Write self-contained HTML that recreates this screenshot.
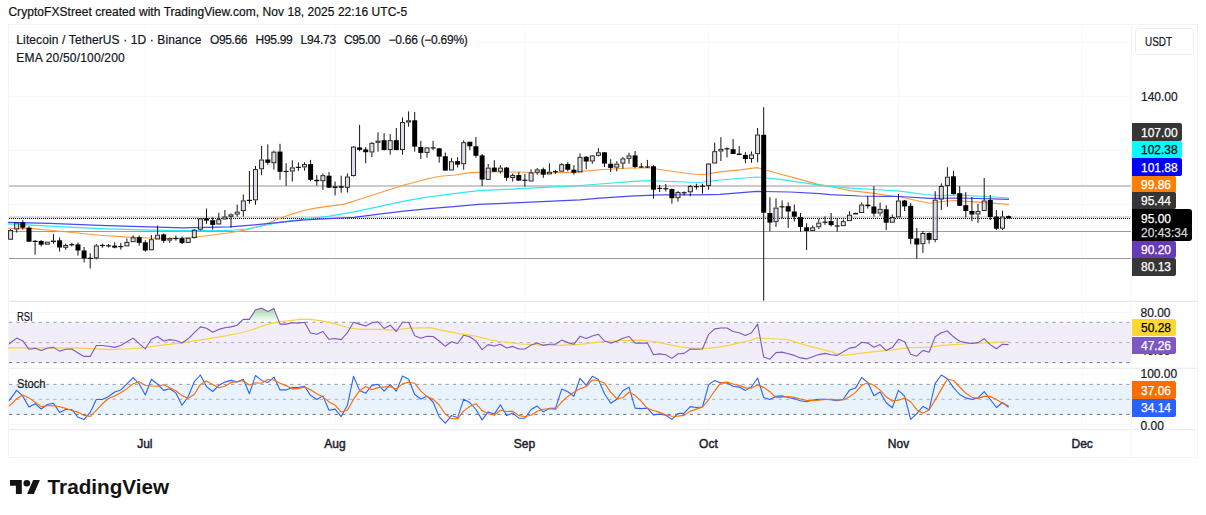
<!DOCTYPE html>
<html><head><meta charset="utf-8"><title>LTCUSDT</title>
<style>
html,body{margin:0;padding:0;background:#fff;}
body{width:1206px;height:515px;position:relative;overflow:hidden;font-family:"Liberation Sans",sans-serif;color:#131722;}
.t{position:absolute;white-space:nowrap;font-size:12px;line-height:14px;-webkit-text-stroke:0.2px currentColor;}
.frame{position:absolute;left:7.5px;top:24px;width:1188.5px;height:432.3px;border:1.4px solid #f2f3f5;box-sizing:content-box;}
.sep{position:absolute;background:#e7ebf0;}
svg{position:absolute;left:0;top:0;}
.lb{position:absolute;left:1132px;font-size:12px;-webkit-text-stroke:0.25px currentColor;text-align:left;padding-left:9px;box-sizing:border-box;border-radius:0 2px 2px 0;white-space:nowrap;}
.ax{position:absolute;left:1141px;-webkit-text-stroke:0.2px currentColor;font-size:12px;line-height:14px;color:#131722;white-space:nowrap;}
.mo{position:absolute;top:436.5px;font-size:12px;line-height:14px;font-weight:normal;-webkit-text-stroke:0.45px currentColor;transform:translateX(-50%);white-space:nowrap;color:#1c202b;}
</style></head><body>
<div class="t" id="hdr" style="left:8.4px;top:5.4px;color:#111;letter-spacing:0.05px">CryptoFXStreet created with TradingView.com, Nov 18, 2025 22:16 UTC-5</div>
<div class="frame"></div>
<svg width="1206" height="515" viewBox="0 0 1206 515">
<line x1="9" x2="1131" y1="42.3" y2="42.3" stroke="#f6f7f9" stroke-width="1"/>
<line x1="9" x2="1131" y1="96.3" y2="96.3" stroke="#f6f7f9" stroke-width="1"/>
<line x1="9" x2="1131" y1="150.3" y2="150.3" stroke="#f6f7f9" stroke-width="1"/>
<line x1="9" x2="1131" y1="204.5" y2="204.5" stroke="#f6f7f9" stroke-width="1"/>
<line x1="9" x2="1131" y1="258.6" y2="258.6" stroke="#f6f7f9" stroke-width="1"/>
<line x1="145.3" x2="145.3" y1="25" y2="429" stroke="#f8f9fa" stroke-width="1"/>
<line x1="335.1" x2="335.1" y1="25" y2="429" stroke="#f8f9fa" stroke-width="1"/>
<line x1="524.9" x2="524.9" y1="25" y2="429" stroke="#f8f9fa" stroke-width="1"/>
<line x1="708.6" x2="708.6" y1="25" y2="429" stroke="#f8f9fa" stroke-width="1"/>
<line x1="898.4" x2="898.4" y1="25" y2="429" stroke="#f8f9fa" stroke-width="1"/>
<line x1="1082.1" x2="1082.1" y1="25" y2="429" stroke="#f8f9fa" stroke-width="1"/>
<line x1="9" x2="1131" y1="312.5" y2="312.5" stroke="#f6f7f9" stroke-width="1"/>
<line x1="9" x2="1131" y1="352.5" y2="352.5" stroke="#f6f7f9" stroke-width="1"/>
<line x1="9" x2="1131" y1="374.2" y2="374.2" stroke="#f6f7f9" stroke-width="1"/>
<line x1="9" x2="1131" y1="424.3" y2="424.3" stroke="#f6f7f9" stroke-width="1"/>
<line x1="9" x2="1197" y1="301.4" y2="301.4" stroke="#e3e8ee" stroke-width="1.1"/>
<line x1="9" x2="1197" y1="368.2" y2="368.2" stroke="#e3e8ee" stroke-width="1.1"/>
<line x1="9" x2="1197" y1="429.6" y2="429.6" stroke="#ebedf1" stroke-width="1.1"/>
<line x1="9" x2="1131" y1="186.0" y2="186.0" stroke="#bababa" stroke-width="1.6"/>
<line x1="9" x2="1131" y1="258.5" y2="258.5" stroke="#9a9a9a" stroke-width="1.1"/>
<line x1="9" x2="1131" y1="231.5" y2="231.5" stroke="#a58bd6" stroke-width="1"/>
<line x1="9" x2="1131" y1="217.1" y2="217.1" stroke="#c4c4c4" stroke-width="1.3"/>
<line x1="9" x2="1131" y1="218.5" y2="218.5" stroke="#000" stroke-width="1" stroke-dasharray="1 1"/>
<path d="M8.0 228.3 L33.2 228.6 L49.8 230.2 L74.6 232.7 L99.5 235.2 L124.4 236.9 L149.3 238.0 L165.8 238.5 L182.4 238.0 L204.9 236.0 L229.8 232.7 L247.0 229.8 L262.0 225.5 L279.5 218.6 L292.0 214.1 L304.4 210.3 L316.8 207.9 L329.3 206.1 L344.2 204.1 L354.1 201.1 L369.0 196.2 L379.0 192.9 L394.0 188.2 L403.9 185.0 L418.8 181.2 L428.8 178.5 L440.0 176.2 L455.0 175.0 L470.0 172.6 L485.0 172.0 L520.0 172.0 L540.0 173.0 L570.0 172.4 L600.0 169.7 L630.0 168.0 L650.0 168.0 L670.0 171.0 L690.0 173.8 L700.0 174.7 L705.0 174.4 L720.0 171.9 L740.0 169.9 L757.0 167.6 L770.0 171.2 L800.0 179.4 L818.0 184.4 L830.0 186.5 L850.0 190.6 L870.0 192.9 L885.0 195.0 L900.0 197.0 L920.0 201.3 L930.0 203.3 L945.0 201.3 L955.0 200.5 L975.0 201.9 L995.0 203.4 L1009.0 204.4" fill="none" stroke="#ff9a3c" stroke-width="1.1" stroke-linejoin="round"/>
<path d="M8.0 223.9 L49.8 226.1 L99.5 228.6 L149.3 230.2 L182.4 230.6 L229.8 230.5 L247.0 229.0 L262.0 226.0 L279.5 222.3 L304.4 219.0 L329.3 216.1 L354.1 211.8 L379.0 206.6 L403.9 201.1 L428.8 196.9 L453.6 193.7 L478.5 190.7 L520.0 188.7 L560.0 186.7 L580.0 185.5 L600.0 184.0 L630.0 181.6 L650.0 180.6 L670.0 181.5 L700.0 182.5 L720.0 180.0 L757.0 177.0 L780.0 179.4 L818.0 184.8 L850.0 188.2 L875.0 189.5 L900.0 191.2 L925.0 194.5 L940.0 195.7 L960.0 195.1 L985.0 196.5 L1009.0 198.0" fill="none" stroke="#2ee9f5" stroke-width="1.2" stroke-linejoin="round"/>
<path d="M8.0 222.3 L49.8 223.3 L99.5 225.3 L149.3 226.9 L182.4 227.8 L205.0 227.4 L229.8 226.8 L254.6 224.8 L279.5 222.3 L304.4 219.8 L329.3 218.6 L354.1 217.3 L379.0 214.1 L403.9 211.1 L428.8 208.6 L453.6 206.6 L478.5 204.4 L520.0 202.6 L580.0 199.8 L600.0 198.2 L630.0 196.2 L660.0 194.8 L700.0 194.8 L720.0 194.3 L757.0 191.4 L790.0 192.0 L820.0 193.7 L830.0 194.7 L860.0 196.0 L885.0 196.4 L900.0 196.5 L930.0 198.4 L960.0 198.0 L1009.0 199.4" fill="none" stroke="#4a4af5" stroke-width="1.2" stroke-linejoin="round"/>
<line x1="10.6" x2="10.6" y1="229.0" y2="229.9" stroke="#111" stroke-width="1"/>
<line x1="10.6" x2="10.6" y1="239.7" y2="240.0" stroke="#111" stroke-width="1"/>
<rect x="8.6" y="230.4" width="4" height="8.8" fill="rgba(200,202,218,0.62)" stroke="#151515" stroke-width="0.9"/>
<line x1="16.7" x2="16.7" y1="222.0" y2="222.4" stroke="#111" stroke-width="1"/>
<line x1="16.7" x2="16.7" y1="229.5" y2="232.6" stroke="#111" stroke-width="1"/>
<rect x="14.7" y="222.9" width="4" height="6.1" fill="rgba(200,202,218,0.62)" stroke="#151515" stroke-width="0.9"/>
<line x1="22.8" x2="22.8" y1="220.2" y2="229.7" stroke="#111" stroke-width="1"/>
<rect x="20.3" y="222.4" width="5" height="5.3" fill="#000"/>
<line x1="29.0" x2="29.0" y1="226.3" y2="241.7" stroke="#111" stroke-width="1"/>
<rect x="26.5" y="227.7" width="5" height="14.0" fill="#000"/>
<line x1="35.1" x2="35.1" y1="240.0" y2="254.6" stroke="#111" stroke-width="1"/>
<line x1="32.6" x2="37.6" y1="241.4" y2="241.4" stroke="#111" stroke-width="1.2"/>
<line x1="41.2" x2="41.2" y1="240.0" y2="246.5" stroke="#111" stroke-width="1"/>
<rect x="38.7" y="241.0" width="5" height="3.7" fill="#000"/>
<rect x="45.3" y="242.2" width="4" height="2.0" fill="rgba(200,202,218,0.62)" stroke="#151515" stroke-width="0.9"/>
<line x1="53.5" x2="53.5" y1="234.2" y2="240.5" stroke="#111" stroke-width="1"/>
<line x1="53.5" x2="53.5" y1="242.0" y2="243.7" stroke="#111" stroke-width="1"/>
<rect x="51.5" y="241.0" width="4" height="0.6" fill="rgba(200,202,218,0.62)" stroke="#151515" stroke-width="0.9"/>
<line x1="59.6" x2="59.6" y1="237.6" y2="251.6" stroke="#111" stroke-width="1"/>
<rect x="57.1" y="240.3" width="5" height="7.2" fill="#000"/>
<line x1="65.7" x2="65.7" y1="243.5" y2="245.0" stroke="#111" stroke-width="1"/>
<line x1="65.7" x2="65.7" y1="247.8" y2="249.8" stroke="#111" stroke-width="1"/>
<rect x="63.7" y="245.5" width="4" height="1.8" fill="rgba(200,202,218,0.62)" stroke="#151515" stroke-width="0.9"/>
<line x1="71.8" x2="71.8" y1="242.8" y2="246.5" stroke="#111" stroke-width="1"/>
<line x1="69.3" x2="74.3" y1="244.7" y2="244.7" stroke="#111" stroke-width="1.2"/>
<line x1="78.0" x2="78.0" y1="242.4" y2="255.6" stroke="#111" stroke-width="1"/>
<rect x="75.5" y="244.4" width="5" height="6.1" fill="#000"/>
<line x1="84.1" x2="84.1" y1="247.0" y2="262.4" stroke="#111" stroke-width="1"/>
<rect x="81.6" y="250.5" width="5" height="7.9" fill="#000"/>
<line x1="90.2" x2="90.2" y1="253.2" y2="268.5" stroke="#111" stroke-width="1"/>
<line x1="87.7" x2="92.7" y1="258.4" y2="258.4" stroke="#111" stroke-width="1.2"/>
<line x1="96.3" x2="96.3" y1="244.0" y2="245.4" stroke="#111" stroke-width="1"/>
<line x1="96.3" x2="96.3" y1="258.3" y2="259.4" stroke="#111" stroke-width="1"/>
<rect x="94.3" y="245.9" width="4" height="11.9" fill="rgba(200,202,218,0.62)" stroke="#151515" stroke-width="0.9"/>
<line x1="102.4" x2="102.4" y1="243.7" y2="247.8" stroke="#111" stroke-width="1"/>
<line x1="99.9" x2="104.9" y1="245.5" y2="245.5" stroke="#111" stroke-width="1.2"/>
<line x1="108.6" x2="108.6" y1="244.0" y2="247.5" stroke="#111" stroke-width="1"/>
<line x1="106.1" x2="111.1" y1="245.8" y2="245.8" stroke="#111" stroke-width="1.2"/>
<line x1="114.7" x2="114.7" y1="242.3" y2="248.3" stroke="#111" stroke-width="1"/>
<rect x="112.2" y="245.6" width="5" height="2.0" fill="#000"/>
<line x1="120.8" x2="120.8" y1="242.9" y2="249.7" stroke="#111" stroke-width="1"/>
<line x1="118.3" x2="123.3" y1="246.6" y2="246.6" stroke="#111" stroke-width="1.2"/>
<line x1="126.9" x2="126.9" y1="238.5" y2="241.9" stroke="#111" stroke-width="1"/>
<rect x="124.9" y="242.4" width="4" height="3.5" fill="rgba(200,202,218,0.62)" stroke="#151515" stroke-width="0.9"/>
<line x1="133.1" x2="133.1" y1="235.5" y2="237.4" stroke="#111" stroke-width="1"/>
<rect x="131.1" y="237.9" width="4" height="3.8" fill="rgba(200,202,218,0.62)" stroke="#151515" stroke-width="0.9"/>
<line x1="139.2" x2="139.2" y1="235.5" y2="245.6" stroke="#111" stroke-width="1"/>
<rect x="136.7" y="237.2" width="5" height="5.7" fill="#000"/>
<line x1="145.3" x2="145.3" y1="240.3" y2="251.7" stroke="#111" stroke-width="1"/>
<rect x="142.8" y="242.3" width="5" height="8.2" fill="#000"/>
<line x1="151.4" x2="151.4" y1="235.1" y2="239.2" stroke="#111" stroke-width="1"/>
<rect x="149.4" y="239.7" width="4" height="10.1" fill="rgba(200,202,218,0.62)" stroke="#151515" stroke-width="0.9"/>
<line x1="157.6" x2="157.6" y1="225.6" y2="234.7" stroke="#111" stroke-width="1"/>
<rect x="155.6" y="235.2" width="4" height="3.8" fill="rgba(200,202,218,0.62)" stroke="#151515" stroke-width="0.9"/>
<line x1="163.7" x2="163.7" y1="233.5" y2="242.9" stroke="#111" stroke-width="1"/>
<rect x="161.2" y="234.4" width="5" height="6.4" fill="#000"/>
<line x1="169.8" x2="169.8" y1="237.6" y2="238.2" stroke="#111" stroke-width="1"/>
<line x1="169.8" x2="169.8" y1="240.6" y2="242.9" stroke="#111" stroke-width="1"/>
<rect x="167.8" y="238.7" width="4" height="1.4" fill="rgba(200,202,218,0.62)" stroke="#151515" stroke-width="0.9"/>
<line x1="175.9" x2="175.9" y1="235.5" y2="240.6" stroke="#111" stroke-width="1"/>
<line x1="173.4" x2="178.4" y1="238.5" y2="238.5" stroke="#111" stroke-width="1.2"/>
<line x1="182.0" x2="182.0" y1="236.5" y2="244.0" stroke="#111" stroke-width="1"/>
<rect x="179.5" y="238.2" width="5" height="4.7" fill="#000"/>
<rect x="186.2" y="238.3" width="4" height="4.1" fill="rgba(200,202,218,0.62)" stroke="#151515" stroke-width="0.9"/>
<line x1="194.3" x2="194.3" y1="229.0" y2="229.7" stroke="#111" stroke-width="1"/>
<line x1="194.3" x2="194.3" y1="238.1" y2="238.5" stroke="#111" stroke-width="1"/>
<rect x="192.3" y="230.2" width="4" height="7.4" fill="rgba(200,202,218,0.62)" stroke="#151515" stroke-width="0.9"/>
<line x1="200.4" x2="200.4" y1="218.0" y2="218.4" stroke="#111" stroke-width="1"/>
<line x1="200.4" x2="200.4" y1="229.7" y2="230.4" stroke="#111" stroke-width="1"/>
<rect x="198.4" y="218.9" width="4" height="10.3" fill="rgba(200,202,218,0.62)" stroke="#151515" stroke-width="0.9"/>
<line x1="206.5" x2="206.5" y1="208.6" y2="223.8" stroke="#111" stroke-width="1"/>
<rect x="204.0" y="218.4" width="5" height="2.2" fill="#000"/>
<line x1="212.7" x2="212.7" y1="217.4" y2="229.7" stroke="#111" stroke-width="1"/>
<rect x="210.2" y="220.2" width="5" height="4.7" fill="#000"/>
<line x1="218.8" x2="218.8" y1="212.7" y2="219.2" stroke="#111" stroke-width="1"/>
<rect x="216.8" y="219.7" width="4" height="4.3" fill="rgba(200,202,218,0.62)" stroke="#151515" stroke-width="0.9"/>
<line x1="224.9" x2="224.9" y1="210.0" y2="216.5" stroke="#111" stroke-width="1"/>
<rect x="222.9" y="217.0" width="4" height="2.0" fill="rgba(200,202,218,0.62)" stroke="#151515" stroke-width="0.9"/>
<line x1="231.0" x2="231.0" y1="213.4" y2="214.4" stroke="#111" stroke-width="1"/>
<line x1="231.0" x2="231.0" y1="216.8" y2="227.6" stroke="#111" stroke-width="1"/>
<rect x="229.0" y="214.9" width="4" height="1.4" fill="rgba(200,202,218,0.62)" stroke="#151515" stroke-width="0.9"/>
<line x1="237.2" x2="237.2" y1="204.6" y2="211.6" stroke="#111" stroke-width="1"/>
<line x1="237.2" x2="237.2" y1="214.6" y2="216.7" stroke="#111" stroke-width="1"/>
<rect x="235.2" y="212.1" width="4" height="2.0" fill="rgba(200,202,218,0.62)" stroke="#151515" stroke-width="0.9"/>
<line x1="243.3" x2="243.3" y1="194.5" y2="200.4" stroke="#111" stroke-width="1"/>
<line x1="243.3" x2="243.3" y1="211.1" y2="216.6" stroke="#111" stroke-width="1"/>
<rect x="241.3" y="200.9" width="4" height="9.7" fill="rgba(200,202,218,0.62)" stroke="#151515" stroke-width="0.9"/>
<line x1="249.4" x2="249.4" y1="170.9" y2="203.7" stroke="#111" stroke-width="1"/>
<line x1="246.9" x2="251.9" y1="200.4" y2="200.4" stroke="#111" stroke-width="1.2"/>
<line x1="255.5" x2="255.5" y1="165.9" y2="169.1" stroke="#111" stroke-width="1"/>
<line x1="255.5" x2="255.5" y1="200.4" y2="204.7" stroke="#111" stroke-width="1"/>
<rect x="253.5" y="169.6" width="4" height="30.3" fill="rgba(200,202,218,0.62)" stroke="#151515" stroke-width="0.9"/>
<line x1="261.6" x2="261.6" y1="146.0" y2="159.5" stroke="#111" stroke-width="1"/>
<line x1="261.6" x2="261.6" y1="169.3" y2="175.2" stroke="#111" stroke-width="1"/>
<rect x="259.6" y="160.0" width="4" height="8.8" fill="rgba(200,202,218,0.62)" stroke="#151515" stroke-width="0.9"/>
<line x1="267.8" x2="267.8" y1="144.4" y2="164.7" stroke="#111" stroke-width="1"/>
<rect x="265.3" y="159.5" width="5" height="3.3" fill="#000"/>
<line x1="273.9" x2="273.9" y1="150.6" y2="151.6" stroke="#111" stroke-width="1"/>
<line x1="273.9" x2="273.9" y1="163.2" y2="169.6" stroke="#111" stroke-width="1"/>
<rect x="271.9" y="152.1" width="4" height="10.6" fill="rgba(200,202,218,0.62)" stroke="#151515" stroke-width="0.9"/>
<line x1="280.0" x2="280.0" y1="143.8" y2="179.8" stroke="#111" stroke-width="1"/>
<rect x="277.5" y="151.6" width="5" height="20.2" fill="#000"/>
<line x1="286.1" x2="286.1" y1="163.2" y2="185.9" stroke="#111" stroke-width="1"/>
<line x1="283.6" x2="288.6" y1="171.5" y2="171.5" stroke="#111" stroke-width="1.2"/>
<line x1="292.3" x2="292.3" y1="160.4" y2="167.4" stroke="#111" stroke-width="1"/>
<line x1="292.3" x2="292.3" y1="171.5" y2="181.6" stroke="#111" stroke-width="1"/>
<rect x="290.3" y="167.9" width="4" height="3.1" fill="rgba(200,202,218,0.62)" stroke="#151515" stroke-width="0.9"/>
<line x1="298.4" x2="298.4" y1="162.3" y2="170.9" stroke="#111" stroke-width="1"/>
<line x1="295.9" x2="300.9" y1="167.4" y2="167.4" stroke="#111" stroke-width="1.2"/>
<line x1="304.5" x2="304.5" y1="162.3" y2="164.1" stroke="#111" stroke-width="1"/>
<line x1="304.5" x2="304.5" y1="167.4" y2="170.6" stroke="#111" stroke-width="1"/>
<rect x="302.5" y="164.6" width="4" height="2.3" fill="rgba(200,202,218,0.62)" stroke="#151515" stroke-width="0.9"/>
<line x1="310.6" x2="310.6" y1="159.9" y2="181.2" stroke="#111" stroke-width="1"/>
<rect x="308.1" y="164.1" width="5" height="15.7" fill="#000"/>
<line x1="316.8" x2="316.8" y1="175.2" y2="185.7" stroke="#111" stroke-width="1"/>
<rect x="314.3" y="179.8" width="5" height="1.4" fill="#000"/>
<line x1="322.9" x2="322.9" y1="173.7" y2="175.2" stroke="#111" stroke-width="1"/>
<line x1="322.9" x2="322.9" y1="181.2" y2="189.9" stroke="#111" stroke-width="1"/>
<rect x="320.9" y="175.7" width="4" height="5.0" fill="rgba(200,202,218,0.62)" stroke="#151515" stroke-width="0.9"/>
<line x1="329.0" x2="329.0" y1="172.0" y2="187.7" stroke="#111" stroke-width="1"/>
<rect x="326.5" y="175.7" width="5" height="12.0" fill="#000"/>
<line x1="335.1" x2="335.1" y1="181.6" y2="186.2" stroke="#111" stroke-width="1"/>
<line x1="335.1" x2="335.1" y1="188.1" y2="195.4" stroke="#111" stroke-width="1"/>
<rect x="333.1" y="186.7" width="4" height="0.9" fill="rgba(200,202,218,0.62)" stroke="#151515" stroke-width="0.9"/>
<line x1="341.2" x2="341.2" y1="175.7" y2="192.7" stroke="#111" stroke-width="1"/>
<rect x="338.7" y="186.2" width="5" height="1.5" fill="#000"/>
<line x1="347.4" x2="347.4" y1="173.5" y2="176.5" stroke="#111" stroke-width="1"/>
<line x1="347.4" x2="347.4" y1="187.8" y2="192.5" stroke="#111" stroke-width="1"/>
<rect x="345.4" y="177.0" width="4" height="10.3" fill="rgba(200,202,218,0.62)" stroke="#151515" stroke-width="0.9"/>
<line x1="353.5" x2="353.5" y1="146.0" y2="146.6" stroke="#111" stroke-width="1"/>
<line x1="353.5" x2="353.5" y1="176.1" y2="176.5" stroke="#111" stroke-width="1"/>
<rect x="351.5" y="147.1" width="4" height="28.5" fill="rgba(200,202,218,0.62)" stroke="#151515" stroke-width="0.9"/>
<line x1="359.6" x2="359.6" y1="124.9" y2="151.2" stroke="#111" stroke-width="1"/>
<rect x="357.1" y="147.4" width="5" height="2.4" fill="#000"/>
<line x1="365.7" x2="365.7" y1="147.0" y2="163.2" stroke="#111" stroke-width="1"/>
<rect x="363.2" y="149.4" width="5" height="2.8" fill="#000"/>
<line x1="371.9" x2="371.9" y1="142.0" y2="142.8" stroke="#111" stroke-width="1"/>
<line x1="371.9" x2="371.9" y1="152.5" y2="157.1" stroke="#111" stroke-width="1"/>
<rect x="369.9" y="143.3" width="4" height="8.7" fill="rgba(200,202,218,0.62)" stroke="#151515" stroke-width="0.9"/>
<line x1="378.0" x2="378.0" y1="132.3" y2="140.6" stroke="#111" stroke-width="1"/>
<line x1="378.0" x2="378.0" y1="142.8" y2="151.6" stroke="#111" stroke-width="1"/>
<rect x="376.0" y="141.1" width="4" height="1.2" fill="rgba(200,202,218,0.62)" stroke="#151515" stroke-width="0.9"/>
<line x1="384.1" x2="384.1" y1="133.2" y2="150.1" stroke="#111" stroke-width="1"/>
<rect x="381.6" y="140.2" width="5" height="9.9" fill="#000"/>
<line x1="390.2" x2="390.2" y1="134.1" y2="140.2" stroke="#111" stroke-width="1"/>
<line x1="390.2" x2="390.2" y1="150.1" y2="154.7" stroke="#111" stroke-width="1"/>
<rect x="388.2" y="140.7" width="4" height="8.9" fill="rgba(200,202,218,0.62)" stroke="#151515" stroke-width="0.9"/>
<line x1="396.3" x2="396.3" y1="128.0" y2="150.1" stroke="#111" stroke-width="1"/>
<rect x="393.8" y="140.2" width="5" height="9.9" fill="#000"/>
<line x1="402.5" x2="402.5" y1="117.5" y2="122.1" stroke="#111" stroke-width="1"/>
<line x1="402.5" x2="402.5" y1="150.1" y2="154.7" stroke="#111" stroke-width="1"/>
<rect x="400.5" y="122.6" width="4" height="27.0" fill="rgba(200,202,218,0.62)" stroke="#151515" stroke-width="0.9"/>
<line x1="408.6" x2="408.6" y1="111.4" y2="120.3" stroke="#111" stroke-width="1"/>
<line x1="408.6" x2="408.6" y1="122.5" y2="126.7" stroke="#111" stroke-width="1"/>
<rect x="406.6" y="120.8" width="4" height="1.2" fill="rgba(200,202,218,0.62)" stroke="#151515" stroke-width="0.9"/>
<line x1="414.7" x2="414.7" y1="112.0" y2="151.6" stroke="#111" stroke-width="1"/>
<rect x="412.2" y="120.3" width="5" height="26.3" fill="#000"/>
<line x1="420.8" x2="420.8" y1="140.9" y2="159.0" stroke="#111" stroke-width="1"/>
<rect x="418.3" y="147.0" width="5" height="5.9" fill="#000"/>
<line x1="427.0" x2="427.0" y1="147.0" y2="147.4" stroke="#111" stroke-width="1"/>
<line x1="427.0" x2="427.0" y1="152.9" y2="157.5" stroke="#111" stroke-width="1"/>
<rect x="425.0" y="147.9" width="4" height="4.5" fill="rgba(200,202,218,0.62)" stroke="#151515" stroke-width="0.9"/>
<line x1="433.1" x2="433.1" y1="140.9" y2="150.1" stroke="#111" stroke-width="1"/>
<line x1="430.6" x2="435.6" y1="147.9" y2="147.9" stroke="#111" stroke-width="1.2"/>
<line x1="439.2" x2="439.2" y1="148.0" y2="162.7" stroke="#111" stroke-width="1"/>
<rect x="436.7" y="148.3" width="5" height="8.3" fill="#000"/>
<line x1="445.3" x2="445.3" y1="152.5" y2="170.6" stroke="#111" stroke-width="1"/>
<rect x="442.8" y="156.2" width="5" height="14.4" fill="#000"/>
<line x1="451.5" x2="451.5" y1="158.1" y2="161.3" stroke="#111" stroke-width="1"/>
<rect x="449.5" y="161.8" width="4" height="8.2" fill="rgba(200,202,218,0.62)" stroke="#151515" stroke-width="0.9"/>
<line x1="457.6" x2="457.6" y1="157.2" y2="167.5" stroke="#111" stroke-width="1"/>
<rect x="455.1" y="161.1" width="5" height="3.5" fill="#000"/>
<line x1="463.7" x2="463.7" y1="140.4" y2="142.2" stroke="#111" stroke-width="1"/>
<line x1="463.7" x2="463.7" y1="164.2" y2="169.7" stroke="#111" stroke-width="1"/>
<rect x="461.7" y="142.7" width="4" height="21.0" fill="rgba(200,202,218,0.62)" stroke="#151515" stroke-width="0.9"/>
<line x1="469.8" x2="469.8" y1="141.8" y2="150.2" stroke="#111" stroke-width="1"/>
<rect x="467.3" y="141.8" width="5" height="4.5" fill="#000"/>
<line x1="475.9" x2="475.9" y1="137.0" y2="157.7" stroke="#111" stroke-width="1"/>
<rect x="473.4" y="146.3" width="5" height="9.5" fill="#000"/>
<line x1="482.1" x2="482.1" y1="154.0" y2="186.0" stroke="#111" stroke-width="1"/>
<rect x="479.6" y="155.4" width="5" height="24.2" fill="#000"/>
<line x1="488.2" x2="488.2" y1="164.0" y2="167.6" stroke="#111" stroke-width="1"/>
<rect x="486.2" y="168.1" width="4" height="11.3" fill="rgba(200,202,218,0.62)" stroke="#151515" stroke-width="0.9"/>
<line x1="494.3" x2="494.3" y1="160.2" y2="171.7" stroke="#111" stroke-width="1"/>
<rect x="491.8" y="167.6" width="5" height="4.1" fill="#000"/>
<line x1="500.4" x2="500.4" y1="165.2" y2="167.6" stroke="#111" stroke-width="1"/>
<line x1="500.4" x2="500.4" y1="171.7" y2="173.5" stroke="#111" stroke-width="1"/>
<rect x="498.4" y="168.1" width="4" height="3.1" fill="rgba(200,202,218,0.62)" stroke="#151515" stroke-width="0.9"/>
<line x1="506.6" x2="506.6" y1="167.0" y2="180.8" stroke="#111" stroke-width="1"/>
<rect x="504.1" y="167.6" width="5" height="10.2" fill="#000"/>
<line x1="512.7" x2="512.7" y1="173.5" y2="175.1" stroke="#111" stroke-width="1"/>
<line x1="512.7" x2="512.7" y1="178.1" y2="181.6" stroke="#111" stroke-width="1"/>
<rect x="510.7" y="175.6" width="4" height="2.0" fill="rgba(200,202,218,0.62)" stroke="#151515" stroke-width="0.9"/>
<line x1="518.8" x2="518.8" y1="172.0" y2="180.6" stroke="#111" stroke-width="1"/>
<rect x="516.3" y="175.1" width="5" height="5.5" fill="#000"/>
<line x1="524.9" x2="524.9" y1="173.8" y2="186.7" stroke="#111" stroke-width="1"/>
<line x1="522.4" x2="527.4" y1="180.3" y2="180.3" stroke="#111" stroke-width="1.2"/>
<line x1="531.1" x2="531.1" y1="169.3" y2="172.4" stroke="#111" stroke-width="1"/>
<rect x="529.1" y="172.9" width="4" height="8.1" fill="rgba(200,202,218,0.62)" stroke="#151515" stroke-width="0.9"/>
<line x1="537.2" x2="537.2" y1="168.0" y2="169.4" stroke="#111" stroke-width="1"/>
<line x1="537.2" x2="537.2" y1="172.7" y2="174.7" stroke="#111" stroke-width="1"/>
<rect x="535.2" y="169.9" width="4" height="2.3" fill="rgba(200,202,218,0.62)" stroke="#151515" stroke-width="0.9"/>
<line x1="543.3" x2="543.3" y1="167.6" y2="177.8" stroke="#111" stroke-width="1"/>
<rect x="540.8" y="169.3" width="5" height="5.4" fill="#000"/>
<line x1="549.4" x2="549.4" y1="163.3" y2="171.7" stroke="#111" stroke-width="1"/>
<rect x="547.4" y="172.2" width="4" height="1.7" fill="rgba(200,202,218,0.62)" stroke="#151515" stroke-width="0.9"/>
<line x1="555.5" x2="555.5" y1="170.0" y2="173.8" stroke="#111" stroke-width="1"/>
<line x1="553.0" x2="558.0" y1="171.7" y2="171.7" stroke="#111" stroke-width="1.2"/>
<line x1="561.7" x2="561.7" y1="163.3" y2="164.2" stroke="#111" stroke-width="1"/>
<rect x="559.7" y="164.7" width="4" height="6.5" fill="rgba(200,202,218,0.62)" stroke="#151515" stroke-width="0.9"/>
<line x1="567.8" x2="567.8" y1="161.9" y2="171.4" stroke="#111" stroke-width="1"/>
<rect x="565.3" y="164.0" width="5" height="5.7" fill="#000"/>
<line x1="573.9" x2="573.9" y1="165.2" y2="174.7" stroke="#111" stroke-width="1"/>
<rect x="571.4" y="169.7" width="5" height="3.0" fill="#000"/>
<line x1="580.0" x2="580.0" y1="153.4" y2="156.8" stroke="#111" stroke-width="1"/>
<rect x="578.0" y="157.3" width="4" height="14.6" fill="rgba(200,202,218,0.62)" stroke="#151515" stroke-width="0.9"/>
<line x1="586.2" x2="586.2" y1="156.0" y2="169.0" stroke="#111" stroke-width="1"/>
<rect x="583.7" y="156.8" width="5" height="4.7" fill="#000"/>
<line x1="592.3" x2="592.3" y1="155.0" y2="155.4" stroke="#111" stroke-width="1"/>
<line x1="592.3" x2="592.3" y1="161.5" y2="163.8" stroke="#111" stroke-width="1"/>
<rect x="590.3" y="155.9" width="4" height="5.1" fill="rgba(200,202,218,0.62)" stroke="#151515" stroke-width="0.9"/>
<line x1="598.4" x2="598.4" y1="148.2" y2="152.3" stroke="#111" stroke-width="1"/>
<line x1="598.4" x2="598.4" y1="155.8" y2="156.5" stroke="#111" stroke-width="1"/>
<rect x="596.4" y="152.8" width="4" height="2.5" fill="rgba(200,202,218,0.62)" stroke="#151515" stroke-width="0.9"/>
<line x1="604.5" x2="604.5" y1="152.0" y2="167.0" stroke="#111" stroke-width="1"/>
<rect x="602.0" y="152.3" width="5" height="11.3" fill="#000"/>
<line x1="610.7" x2="610.7" y1="159.2" y2="172.0" stroke="#111" stroke-width="1"/>
<rect x="608.2" y="163.8" width="5" height="4.1" fill="#000"/>
<line x1="616.8" x2="616.8" y1="161.2" y2="163.6" stroke="#111" stroke-width="1"/>
<line x1="616.8" x2="616.8" y1="167.6" y2="171.4" stroke="#111" stroke-width="1"/>
<rect x="614.8" y="164.1" width="4" height="3.0" fill="rgba(200,202,218,0.62)" stroke="#151515" stroke-width="0.9"/>
<line x1="622.9" x2="622.9" y1="157.0" y2="158.4" stroke="#111" stroke-width="1"/>
<line x1="622.9" x2="622.9" y1="163.6" y2="168.7" stroke="#111" stroke-width="1"/>
<rect x="620.9" y="158.9" width="4" height="4.2" fill="rgba(200,202,218,0.62)" stroke="#151515" stroke-width="0.9"/>
<line x1="629.0" x2="629.0" y1="152.7" y2="155.4" stroke="#111" stroke-width="1"/>
<line x1="629.0" x2="629.0" y1="158.8" y2="163.8" stroke="#111" stroke-width="1"/>
<rect x="627.0" y="155.9" width="4" height="2.4" fill="rgba(200,202,218,0.62)" stroke="#151515" stroke-width="0.9"/>
<line x1="635.1" x2="635.1" y1="151.0" y2="168.3" stroke="#111" stroke-width="1"/>
<rect x="632.6" y="155.4" width="5" height="11.6" fill="#000"/>
<line x1="641.3" x2="641.3" y1="163.1" y2="168.0" stroke="#111" stroke-width="1"/>
<line x1="638.8" x2="643.8" y1="167.0" y2="167.0" stroke="#111" stroke-width="1.2"/>
<line x1="647.4" x2="647.4" y1="159.9" y2="168.0" stroke="#111" stroke-width="1"/>
<line x1="644.9" x2="649.9" y1="167.0" y2="167.0" stroke="#111" stroke-width="1.2"/>
<line x1="653.5" x2="653.5" y1="165.2" y2="198.5" stroke="#111" stroke-width="1"/>
<rect x="651.0" y="166.3" width="5" height="23.4" fill="#000"/>
<line x1="659.6" x2="659.6" y1="185.0" y2="192.1" stroke="#111" stroke-width="1"/>
<line x1="657.1" x2="662.1" y1="188.4" y2="188.4" stroke="#111" stroke-width="1.2"/>
<line x1="665.8" x2="665.8" y1="184.0" y2="191.4" stroke="#111" stroke-width="1"/>
<line x1="663.3" x2="668.3" y1="188.7" y2="188.7" stroke="#111" stroke-width="1.2"/>
<line x1="671.9" x2="671.9" y1="188.5" y2="203.7" stroke="#111" stroke-width="1"/>
<rect x="669.4" y="189.1" width="5" height="9.1" fill="#000"/>
<line x1="678.0" x2="678.0" y1="191.0" y2="192.1" stroke="#111" stroke-width="1"/>
<line x1="678.0" x2="678.0" y1="198.2" y2="201.6" stroke="#111" stroke-width="1"/>
<rect x="676.0" y="192.6" width="4" height="5.1" fill="rgba(200,202,218,0.62)" stroke="#151515" stroke-width="0.9"/>
<line x1="684.1" x2="684.1" y1="191.4" y2="195.5" stroke="#111" stroke-width="1"/>
<line x1="681.6" x2="686.6" y1="192.8" y2="192.8" stroke="#111" stroke-width="1.2"/>
<line x1="690.3" x2="690.3" y1="185.0" y2="186.0" stroke="#111" stroke-width="1"/>
<line x1="690.3" x2="690.3" y1="192.3" y2="196.2" stroke="#111" stroke-width="1"/>
<rect x="688.3" y="186.5" width="4" height="5.3" fill="rgba(200,202,218,0.62)" stroke="#151515" stroke-width="0.9"/>
<line x1="696.4" x2="696.4" y1="183.7" y2="189.6" stroke="#111" stroke-width="1"/>
<line x1="693.9" x2="698.9" y1="186.6" y2="186.6" stroke="#111" stroke-width="1.2"/>
<line x1="702.5" x2="702.5" y1="183.7" y2="193.7" stroke="#111" stroke-width="1"/>
<line x1="700.0" x2="705.0" y1="186.2" y2="186.2" stroke="#111" stroke-width="1.2"/>
<line x1="708.6" x2="708.6" y1="163.0" y2="163.5" stroke="#111" stroke-width="1"/>
<line x1="708.6" x2="708.6" y1="185.9" y2="189.6" stroke="#111" stroke-width="1"/>
<rect x="706.6" y="164.0" width="4" height="21.4" fill="rgba(200,202,218,0.62)" stroke="#151515" stroke-width="0.9"/>
<line x1="714.7" x2="714.7" y1="142.7" y2="151.2" stroke="#111" stroke-width="1"/>
<rect x="712.7" y="151.7" width="4" height="11.3" fill="rgba(200,202,218,0.62)" stroke="#151515" stroke-width="0.9"/>
<line x1="720.9" x2="720.9" y1="137.2" y2="148.8" stroke="#111" stroke-width="1"/>
<line x1="720.9" x2="720.9" y1="151.5" y2="161.0" stroke="#111" stroke-width="1"/>
<rect x="718.9" y="149.3" width="4" height="1.7" fill="rgba(200,202,218,0.62)" stroke="#151515" stroke-width="0.9"/>
<line x1="727.0" x2="727.0" y1="147.4" y2="157.4" stroke="#111" stroke-width="1"/>
<line x1="724.5" x2="729.5" y1="148.8" y2="148.8" stroke="#111" stroke-width="1.2"/>
<line x1="733.1" x2="733.1" y1="139.0" y2="154.0" stroke="#111" stroke-width="1"/>
<rect x="730.6" y="149.2" width="5" height="4.8" fill="#000"/>
<line x1="739.2" x2="739.2" y1="146.1" y2="154.9" stroke="#111" stroke-width="1"/>
<rect x="736.7" y="153.6" width="5" height="1.3" fill="#000"/>
<line x1="745.4" x2="745.4" y1="152.2" y2="163.3" stroke="#111" stroke-width="1"/>
<rect x="742.9" y="154.9" width="5" height="4.1" fill="#000"/>
<line x1="751.5" x2="751.5" y1="151.5" y2="154.5" stroke="#111" stroke-width="1"/>
<line x1="751.5" x2="751.5" y1="159.0" y2="162.7" stroke="#111" stroke-width="1"/>
<rect x="749.5" y="155.0" width="4" height="3.5" fill="rgba(200,202,218,0.62)" stroke="#151515" stroke-width="0.9"/>
<line x1="757.6" x2="757.6" y1="128.0" y2="134.5" stroke="#111" stroke-width="1"/>
<line x1="757.6" x2="757.6" y1="154.2" y2="162.4" stroke="#111" stroke-width="1"/>
<rect x="755.6" y="135.0" width="4" height="18.7" fill="rgba(200,202,218,0.62)" stroke="#151515" stroke-width="0.9"/>
<line x1="763.7" x2="763.7" y1="107.2" y2="300.6" stroke="#111" stroke-width="1"/>
<rect x="761.2" y="134.8" width="5" height="77.9" fill="#000"/>
<line x1="769.9" x2="769.9" y1="197.3" y2="231.4" stroke="#111" stroke-width="1"/>
<rect x="767.4" y="213.0" width="5" height="9.6" fill="#000"/>
<line x1="776.0" x2="776.0" y1="198.4" y2="207.6" stroke="#111" stroke-width="1"/>
<line x1="776.0" x2="776.0" y1="222.2" y2="226.9" stroke="#111" stroke-width="1"/>
<rect x="774.0" y="208.1" width="4" height="13.6" fill="rgba(200,202,218,0.62)" stroke="#151515" stroke-width="0.9"/>
<line x1="782.1" x2="782.1" y1="200.4" y2="218.5" stroke="#111" stroke-width="1"/>
<line x1="779.6" x2="784.6" y1="206.8" y2="206.8" stroke="#111" stroke-width="1.2"/>
<line x1="788.2" x2="788.2" y1="202.4" y2="227.9" stroke="#111" stroke-width="1"/>
<rect x="785.7" y="206.2" width="5" height="5.3" fill="#000"/>
<line x1="794.3" x2="794.3" y1="204.5" y2="221.5" stroke="#111" stroke-width="1"/>
<rect x="791.8" y="211.5" width="5" height="5.2" fill="#000"/>
<line x1="800.5" x2="800.5" y1="213.0" y2="231.7" stroke="#111" stroke-width="1"/>
<rect x="798.0" y="217.1" width="5" height="9.8" fill="#000"/>
<line x1="806.6" x2="806.6" y1="223.2" y2="250.0" stroke="#111" stroke-width="1"/>
<rect x="804.1" y="227.3" width="5" height="3.7" fill="#000"/>
<line x1="812.7" x2="812.7" y1="225.5" y2="227.3" stroke="#111" stroke-width="1"/>
<rect x="810.7" y="227.8" width="4" height="2.7" fill="rgba(200,202,218,0.62)" stroke="#151515" stroke-width="0.9"/>
<line x1="818.8" x2="818.8" y1="218.8" y2="222.6" stroke="#111" stroke-width="1"/>
<line x1="818.8" x2="818.8" y1="227.3" y2="229.0" stroke="#111" stroke-width="1"/>
<rect x="816.8" y="223.1" width="4" height="3.7" fill="rgba(200,202,218,0.62)" stroke="#151515" stroke-width="0.9"/>
<line x1="825.0" x2="825.0" y1="216.4" y2="224.9" stroke="#111" stroke-width="1"/>
<line x1="822.5" x2="827.5" y1="222.2" y2="222.2" stroke="#111" stroke-width="1.2"/>
<line x1="831.1" x2="831.1" y1="213.0" y2="226.6" stroke="#111" stroke-width="1"/>
<rect x="828.6" y="221.1" width="5" height="4.0" fill="#000"/>
<line x1="837.2" x2="837.2" y1="218.1" y2="231.7" stroke="#111" stroke-width="1"/>
<line x1="834.7" x2="839.7" y1="226.0" y2="226.0" stroke="#111" stroke-width="1.2"/>
<line x1="843.3" x2="843.3" y1="219.4" y2="221.2" stroke="#111" stroke-width="1"/>
<rect x="841.3" y="221.7" width="4" height="4.0" fill="rgba(200,202,218,0.62)" stroke="#151515" stroke-width="0.9"/>
<line x1="849.5" x2="849.5" y1="211.3" y2="214.7" stroke="#111" stroke-width="1"/>
<rect x="847.5" y="215.2" width="4" height="5.5" fill="rgba(200,202,218,0.62)" stroke="#151515" stroke-width="0.9"/>
<line x1="855.6" x2="855.6" y1="212.6" y2="212.9" stroke="#111" stroke-width="1"/>
<rect x="853.6" y="213.4" width="4" height="0.6" fill="rgba(200,202,218,0.62)" stroke="#151515" stroke-width="0.9"/>
<line x1="861.7" x2="861.7" y1="202.4" y2="204.5" stroke="#111" stroke-width="1"/>
<rect x="859.7" y="205.0" width="4" height="7.5" fill="rgba(200,202,218,0.62)" stroke="#151515" stroke-width="0.9"/>
<line x1="867.8" x2="867.8" y1="196.0" y2="208.6" stroke="#111" stroke-width="1"/>
<rect x="865.3" y="204.7" width="5" height="1.5" fill="#000"/>
<line x1="873.9" x2="873.9" y1="186.1" y2="216.7" stroke="#111" stroke-width="1"/>
<rect x="871.4" y="206.5" width="5" height="7.1" fill="#000"/>
<line x1="880.1" x2="880.1" y1="202.5" y2="208.8" stroke="#111" stroke-width="1"/>
<line x1="880.1" x2="880.1" y1="213.5" y2="215.8" stroke="#111" stroke-width="1"/>
<rect x="878.1" y="209.3" width="4" height="3.7" fill="rgba(200,202,218,0.62)" stroke="#151515" stroke-width="0.9"/>
<line x1="886.2" x2="886.2" y1="205.2" y2="230.0" stroke="#111" stroke-width="1"/>
<rect x="883.7" y="209.3" width="5" height="13.4" fill="#000"/>
<line x1="892.3" x2="892.3" y1="214.5" y2="217.0" stroke="#111" stroke-width="1"/>
<rect x="890.3" y="217.5" width="4" height="4.7" fill="rgba(200,202,218,0.62)" stroke="#151515" stroke-width="0.9"/>
<line x1="898.4" x2="898.4" y1="194.1" y2="200.5" stroke="#111" stroke-width="1"/>
<rect x="896.4" y="201.0" width="4" height="15.9" fill="rgba(200,202,218,0.62)" stroke="#151515" stroke-width="0.9"/>
<line x1="904.6" x2="904.6" y1="200.0" y2="211.0" stroke="#111" stroke-width="1"/>
<rect x="902.1" y="200.5" width="5" height="5.9" fill="#000"/>
<line x1="910.7" x2="910.7" y1="203.0" y2="244.2" stroke="#111" stroke-width="1"/>
<rect x="908.2" y="205.8" width="5" height="33.0" fill="#000"/>
<line x1="916.8" x2="916.8" y1="228.1" y2="258.8" stroke="#111" stroke-width="1"/>
<rect x="914.3" y="238.4" width="5" height="6.2" fill="#000"/>
<line x1="922.9" x2="922.9" y1="231.0" y2="233.0" stroke="#111" stroke-width="1"/>
<line x1="922.9" x2="922.9" y1="244.2" y2="252.8" stroke="#111" stroke-width="1"/>
<rect x="920.9" y="233.5" width="4" height="10.2" fill="rgba(200,202,218,0.62)" stroke="#151515" stroke-width="0.9"/>
<line x1="929.1" x2="929.1" y1="232.5" y2="243.6" stroke="#111" stroke-width="1"/>
<rect x="926.6" y="233.0" width="5" height="6.8" fill="#000"/>
<line x1="935.2" x2="935.2" y1="191.2" y2="199.6" stroke="#111" stroke-width="1"/>
<line x1="935.2" x2="935.2" y1="240.1" y2="242.3" stroke="#111" stroke-width="1"/>
<rect x="933.2" y="200.1" width="4" height="39.5" fill="rgba(200,202,218,0.62)" stroke="#151515" stroke-width="0.9"/>
<line x1="941.3" x2="941.3" y1="183.4" y2="186.0" stroke="#111" stroke-width="1"/>
<line x1="941.3" x2="941.3" y1="199.6" y2="210.0" stroke="#111" stroke-width="1"/>
<rect x="939.3" y="186.5" width="4" height="12.6" fill="rgba(200,202,218,0.62)" stroke="#151515" stroke-width="0.9"/>
<line x1="947.4" x2="947.4" y1="167.3" y2="176.7" stroke="#111" stroke-width="1"/>
<line x1="947.4" x2="947.4" y1="186.0" y2="206.7" stroke="#111" stroke-width="1"/>
<rect x="945.4" y="177.2" width="4" height="8.3" fill="rgba(200,202,218,0.62)" stroke="#151515" stroke-width="0.9"/>
<line x1="953.5" x2="953.5" y1="170.8" y2="194.5" stroke="#111" stroke-width="1"/>
<rect x="951.0" y="176.3" width="5" height="17.8" fill="#000"/>
<line x1="959.7" x2="959.7" y1="186.0" y2="205.8" stroke="#111" stroke-width="1"/>
<rect x="957.2" y="193.2" width="5" height="12.6" fill="#000"/>
<line x1="965.8" x2="965.8" y1="192.2" y2="217.4" stroke="#111" stroke-width="1"/>
<rect x="963.3" y="205.2" width="5" height="5.8" fill="#000"/>
<line x1="971.9" x2="971.9" y1="197.0" y2="221.3" stroke="#111" stroke-width="1"/>
<rect x="969.4" y="211.0" width="5" height="3.5" fill="#000"/>
<line x1="978.0" x2="978.0" y1="203.8" y2="211.0" stroke="#111" stroke-width="1"/>
<line x1="978.0" x2="978.0" y1="214.5" y2="222.9" stroke="#111" stroke-width="1"/>
<rect x="976.0" y="211.5" width="4" height="2.5" fill="rgba(200,202,218,0.62)" stroke="#151515" stroke-width="0.9"/>
<line x1="984.2" x2="984.2" y1="178.0" y2="200.5" stroke="#111" stroke-width="1"/>
<rect x="982.2" y="201.0" width="4" height="9.5" fill="rgba(200,202,218,0.62)" stroke="#151515" stroke-width="0.9"/>
<line x1="990.3" x2="990.3" y1="195.1" y2="220.0" stroke="#111" stroke-width="1"/>
<rect x="987.8" y="200.0" width="5" height="17.0" fill="#000"/>
<line x1="996.4" x2="996.4" y1="210.0" y2="230.0" stroke="#111" stroke-width="1"/>
<rect x="993.9" y="216.5" width="5" height="12.2" fill="#000"/>
<line x1="1002.5" x2="1002.5" y1="210.6" y2="216.5" stroke="#111" stroke-width="1"/>
<line x1="1002.5" x2="1002.5" y1="228.7" y2="230.0" stroke="#111" stroke-width="1"/>
<rect x="1000.5" y="217.0" width="4" height="11.2" fill="rgba(200,202,218,0.62)" stroke="#151515" stroke-width="0.9"/>
<line x1="1008.6" x2="1008.6" y1="215.5" y2="218.4" stroke="#111" stroke-width="1"/>
<rect x="1006.1" y="216.1" width="5" height="2.3" fill="#000"/>
<rect x="9" y="322.3" width="1122.5" height="40.3" fill="#f1eef9"/>
<line x1="9" x2="1131" y1="322.3" y2="322.3" stroke="#979aa3" stroke-width="1" stroke-dasharray="3.2 4.2"/>
<line x1="9" x2="1131" y1="342.6" y2="342.6" stroke="#adafb7" stroke-width="1" stroke-dasharray="3.2 4.2"/>
<line x1="9" x2="1131" y1="362.6" y2="362.6" stroke="#747781" stroke-width="1" stroke-dasharray="3.2 4.2"/>
<defs><linearGradient id="gg" gradientUnits="userSpaceOnUse" x1="0" y1="307" x2="0" y2="322.5"><stop offset="0" stop-color="#4caf50" stop-opacity="0.55"/><stop offset="1" stop-color="#4caf50" stop-opacity="0"/></linearGradient><clipPath id="cpl"><rect x="8.8" y="300" width="1123" height="130"/></clipPath><clipPath id="cpg"><rect x="9" y="300" width="1122" height="22.3"/></clipPath></defs>
<path d="M231.0 326.9 L237.2 325.2 L243.3 319.4 L249.4 319.4 L255.5 309.8 L261.6 308.3 L267.8 311.5 L273.9 308.6 L280.0 324.1 L286.1 324.1 L292.3 322.7 L298.4 323.1 L304.5 322.2 L310.6 333.0 L310.6 322.3 L231.0 322.3 Z" fill="url(#gg)" clip-path="url(#cpg)" style="--a:1"/>
<path d="M8.0 347.8 L75.0 347.8 L92.0 348.6 L110.0 349.6 L125.0 349.0 L140.0 348.1 L160.0 345.4 L180.0 343.1 L200.0 340.1 L220.0 336.8 L240.0 333.0 L250.0 330.5 L260.0 326.9 L270.0 323.6 L280.0 321.6 L290.0 320.6 L300.0 319.4 L310.0 319.4 L320.0 320.6 L330.0 322.7 L340.0 325.2 L350.0 328.2 L360.0 329.4 L380.0 329.4 L390.0 330.2 L400.0 329.4 L410.0 328.2 L430.0 327.7 L440.0 329.9 L450.0 331.9 L460.0 333.8 L470.0 335.2 L480.0 337.2 L490.0 339.8 L500.0 341.5 L510.0 342.6 L520.0 344.0 L540.0 344.8 L560.0 345.4 L580.0 344.3 L600.0 341.8 L620.0 340.5 L640.0 340.1 L650.0 341.0 L660.0 342.6 L670.0 344.8 L680.0 346.8 L690.0 347.9 L700.0 348.4 L710.0 348.2 L720.0 346.8 L730.0 345.1 L740.0 342.6 L750.0 340.5 L757.0 338.0 L770.0 338.5 L788.0 339.6 L800.0 343.5 L810.0 346.4 L820.0 348.8 L830.0 351.3 L842.0 355.4 L850.0 354.7 L870.0 352.2 L890.0 350.1 L900.0 348.8 L910.0 347.6 L930.0 347.1 L940.0 345.6 L950.0 344.8 L970.0 343.5 L990.0 342.6 L1008.6 341.5" fill="none" stroke="#fbd33b" stroke-width="1.2" stroke-linejoin="round"/>
<path d="M4.5 347.0 L10.6 342.8 L16.7 338.1 L22.8 340.9 L29.0 349.3 L35.1 348.3 L41.2 350.5 L47.3 348.3 L53.5 347.4 L59.6 351.1 L65.7 349.3 L71.8 349.0 L78.0 353.0 L84.1 356.4 L90.2 356.4 L96.3 345.5 L102.4 345.5 L108.6 346.2 L114.7 347.4 L120.8 345.5 L126.9 341.8 L133.1 338.1 L139.2 343.7 L145.3 348.8 L151.4 339.3 L157.6 336.5 L163.7 341.0 L169.8 339.6 L175.9 340.5 L182.0 343.0 L188.2 338.8 L194.3 332.7 L200.4 326.9 L206.5 328.2 L212.7 332.3 L218.8 329.4 L224.9 327.7 L231.0 326.9 L237.2 325.2 L243.3 319.4 L249.4 319.4 L255.5 309.8 L261.6 308.3 L267.8 311.5 L273.9 308.6 L280.0 324.1 L286.1 324.1 L292.3 322.7 L298.4 323.1 L304.5 322.2 L310.6 333.0 L316.8 334.3 L322.9 331.5 L329.0 339.3 L335.1 338.5 L341.2 339.6 L347.4 332.7 L353.5 322.2 L359.6 324.1 L365.7 326.0 L371.9 322.7 L378.0 321.9 L384.1 328.5 L390.2 325.2 L396.3 331.5 L402.5 322.2 L408.6 322.2 L414.7 335.7 L420.8 338.2 L427.0 336.3 L433.1 336.5 L439.2 341.0 L445.3 346.3 L451.5 341.8 L457.6 343.5 L463.7 335.2 L469.8 336.8 L475.9 341.0 L482.1 349.6 L488.2 344.6 L494.3 346.0 L500.4 344.3 L506.6 348.0 L512.7 346.4 L518.8 349.0 L524.9 349.0 L531.1 345.1 L537.2 343.1 L543.3 345.4 L549.4 344.3 L555.5 344.3 L561.7 340.1 L567.8 342.6 L573.9 344.3 L580.0 336.3 L586.2 338.5 L592.3 336.0 L598.4 334.3 L604.5 341.0 L610.7 343.1 L616.8 341.3 L622.9 338.2 L629.0 336.5 L635.1 343.1 L641.3 343.1 L647.4 343.1 L653.5 354.7 L659.6 353.9 L665.8 354.7 L671.9 358.4 L678.0 353.7 L684.1 353.4 L690.3 349.0 L696.4 349.3 L702.5 349.0 L708.6 334.3 L714.7 328.9 L720.9 328.0 L727.0 328.0 L733.1 331.5 L739.2 332.7 L745.4 335.5 L751.5 332.7 L757.6 324.1 L763.7 357.1 L769.9 359.2 L776.0 352.6 L782.1 352.1 L788.2 353.7 L794.3 355.4 L800.5 357.9 L806.6 358.9 L812.7 356.7 L818.8 354.6 L825.0 353.4 L831.1 354.7 L837.2 355.4 L843.3 351.8 L849.5 348.1 L855.6 347.1 L861.7 342.3 L867.8 343.1 L873.9 347.3 L880.1 344.6 L886.2 350.6 L892.3 347.6 L898.4 339.3 L904.6 341.8 L910.7 354.2 L916.8 356.2 L922.9 350.4 L929.1 352.2 L935.2 336.8 L941.3 332.7 L947.4 331.0 L953.5 336.8 L959.7 341.3 L965.8 342.6 L971.9 343.5 L978.0 342.6 L984.2 338.8 L990.3 344.6 L996.4 348.8 L1002.5 344.3 L1008.6 344.6" clip-path="url(#cpl)" fill="none" stroke="#7e57c2" stroke-width="1.1" stroke-linejoin="round"/>
<rect x="9" y="384.4" width="1122.5" height="30" fill="#e8f3fd"/>
<line x1="9" x2="1131" y1="384.4" y2="384.4" stroke="#979aa3" stroke-width="1" stroke-dasharray="3.2 4.2"/>
<line x1="9" x2="1131" y1="399.3" y2="399.3" stroke="#adafb7" stroke-width="1" stroke-dasharray="3.2 4.2"/>
<line x1="9" x2="1131" y1="414.4" y2="414.4" stroke="#6a6e78" stroke-width="1" stroke-dasharray="3.2 4.2"/>
<path d="M4.5 406.0 L10.6 398.7 L16.7 390.4 L22.8 396.2 L29.0 407.0 L35.1 403.7 L41.2 409.0 L47.3 404.5 L53.5 403.3 L59.6 412.4 L65.7 409.5 L71.8 409.5 L78.0 417.3 L84.1 419.4 L90.2 412.4 L96.3 399.5 L102.4 399.5 L108.6 396.5 L114.7 392.0 L120.8 389.9 L126.9 383.8 L133.1 377.6 L139.2 383.8 L145.3 395.0 L151.4 379.3 L157.6 384.3 L163.7 390.4 L169.8 388.7 L175.9 392.9 L182.0 405.3 L188.2 396.5 L194.3 381.7 L200.4 375.0 L206.5 386.6 L212.7 391.5 L218.8 385.4 L224.9 382.1 L231.0 380.4 L237.2 382.1 L243.3 379.3 L249.4 393.7 L255.5 375.5 L261.6 380.4 L267.8 382.6 L273.9 377.1 L280.0 389.9 L286.1 389.9 L292.3 387.6 L298.4 387.6 L304.5 386.2 L310.6 395.4 L316.8 399.5 L322.9 395.9 L329.0 410.3 L335.1 409.1 L341.2 416.6 L347.4 405.3 L353.5 376.3 L359.6 390.4 L365.7 393.2 L371.9 385.4 L378.0 384.3 L384.1 391.2 L390.2 384.6 L396.3 391.2 L402.5 376.0 L408.6 379.3 L414.7 394.5 L420.8 399.0 L427.0 396.2 L433.1 402.0 L439.2 416.9 L445.3 423.2 L451.5 415.6 L457.6 417.8 L463.7 399.2 L469.8 402.5 L475.9 409.5 L482.1 419.9 L488.2 411.9 L494.3 414.1 L500.4 404.8 L506.6 415.6 L512.7 413.1 L518.8 418.2 L524.9 418.2 L531.1 409.5 L537.2 406.1 L543.3 411.9 L549.4 408.3 L555.5 408.3 L561.7 389.1 L567.8 391.7 L573.9 396.2 L580.0 378.3 L586.2 385.4 L592.3 376.3 L598.4 379.6 L604.5 393.7 L610.7 403.2 L616.8 399.2 L622.9 390.7 L629.0 387.1 L635.1 408.1 L641.3 408.6 L647.4 408.1 L653.5 414.9 L659.6 414.1 L665.8 415.3 L671.9 419.4 L678.0 413.6 L684.1 413.1 L690.3 406.6 L696.4 407.5 L702.5 407.0 L708.6 384.9 L714.7 380.4 L720.9 382.9 L727.0 382.9 L733.1 386.2 L739.2 387.1 L745.4 390.4 L751.5 386.7 L757.6 378.0 L763.7 397.5 L769.9 399.5 L776.0 396.2 L782.1 395.9 L788.2 397.5 L794.3 398.7 L800.5 400.8 L806.6 401.7 L812.7 400.0 L818.8 399.2 L825.0 399.2 L831.1 399.8 L837.2 400.7 L843.3 399.2 L849.5 390.1 L855.6 387.9 L861.7 377.5 L867.8 382.6 L873.9 395.7 L880.1 392.0 L886.2 402.8 L892.3 407.8 L898.4 390.4 L904.6 396.2 L910.7 419.4 L916.8 413.6 L922.9 406.5 L929.1 409.8 L935.2 383.3 L941.3 375.0 L947.4 378.8 L953.5 387.6 L959.7 394.5 L965.8 397.9 L971.9 399.5 L978.0 397.9 L984.2 391.7 L990.3 399.5 L996.4 407.5 L1002.5 402.5 L1008.6 407.3" clip-path="url(#cpl)" fill="none" stroke="#2962ff" stroke-width="1.1" stroke-linejoin="round"/>
<path d="M4.5 409.0 L10.6 404.8 L16.7 398.7 L22.8 395.1 L29.0 397.9 L35.1 402.3 L41.2 406.6 L47.3 405.7 L53.5 405.6 L59.6 406.7 L65.7 408.4 L71.8 410.5 L78.0 412.1 L84.1 415.4 L90.2 416.4 L96.3 410.4 L102.4 403.8 L108.6 398.5 L114.7 396.0 L120.8 392.8 L126.9 388.6 L133.1 383.8 L139.2 381.7 L145.3 385.5 L151.4 386.0 L157.6 386.2 L163.7 384.7 L169.8 387.8 L175.9 390.7 L182.0 395.6 L188.2 398.2 L194.3 394.5 L200.4 384.4 L206.5 381.1 L212.7 384.4 L218.8 387.8 L224.9 386.3 L231.0 382.6 L237.2 381.5 L243.3 380.6 L249.4 385.0 L255.5 382.8 L261.6 383.2 L267.8 379.5 L273.9 380.0 L280.0 383.2 L286.1 385.6 L292.3 389.1 L298.4 388.4 L304.5 387.1 L310.6 389.7 L316.8 393.7 L322.9 396.9 L329.0 401.9 L335.1 405.1 L341.2 412.0 L347.4 410.3 L353.5 399.4 L359.6 390.7 L365.7 386.6 L371.9 389.7 L378.0 387.6 L384.1 387.0 L390.2 386.7 L396.3 389.0 L402.5 383.9 L408.6 382.2 L414.7 383.3 L420.8 390.9 L427.0 396.6 L433.1 399.1 L439.2 405.0 L445.3 414.0 L451.5 418.6 L457.6 418.9 L463.7 410.9 L469.8 406.5 L475.9 403.7 L482.1 410.6 L488.2 413.8 L494.3 415.3 L500.4 410.3 L506.6 411.5 L512.7 411.2 L518.8 415.6 L524.9 416.5 L531.1 415.3 L537.2 411.3 L543.3 409.2 L549.4 408.8 L555.5 409.5 L561.7 401.9 L567.8 396.4 L573.9 392.3 L580.0 388.7 L586.2 386.6 L592.3 380.0 L598.4 380.4 L604.5 383.2 L610.7 392.2 L616.8 398.7 L622.9 397.7 L629.0 392.3 L635.1 395.3 L641.3 401.3 L647.4 408.3 L653.5 410.5 L659.6 412.4 L665.8 414.8 L671.9 416.3 L678.0 416.1 L684.1 415.4 L690.3 411.1 L696.4 409.1 L702.5 407.0 L708.6 399.8 L714.7 390.8 L720.9 382.7 L727.0 382.1 L733.1 384.0 L739.2 385.4 L745.4 387.9 L751.5 388.1 L757.6 385.0 L763.7 387.4 L769.9 391.7 L776.0 397.7 L782.1 397.2 L788.2 396.5 L794.3 397.4 L800.5 399.0 L806.6 400.4 L812.7 400.8 L818.8 400.3 L825.0 399.5 L831.1 399.4 L837.2 399.9 L843.3 399.9 L849.5 396.7 L855.6 392.4 L861.7 385.2 L867.8 382.7 L873.9 385.3 L880.1 390.1 L886.2 396.8 L892.3 400.9 L898.4 400.3 L904.6 398.1 L910.7 402.0 L916.8 409.7 L922.9 413.2 L929.1 410.0 L935.2 399.9 L941.3 389.4 L947.4 379.0 L953.5 380.5 L959.7 387.0 L965.8 393.3 L971.9 397.3 L978.0 398.4 L984.2 396.4 L990.3 396.4 L996.4 399.6 L1002.5 403.2 L1008.6 405.8" clip-path="url(#cpl)" fill="none" stroke="#ff6d00" stroke-width="1.15" stroke-linejoin="round"/>
</svg>
<div class="sep" style="left:1131px;top:25px;width:1px;height:432px;background:#f5f6f8"></div>
<div class="t" id="l1a" style="left:16.3px;top:32.5px;letter-spacing:0.12px">Litecoin / TetherUS · 1D · Binance</div>
<div class="t" id="l1b" style="left:210px;top:32.5px;letter-spacing:-0.4px">O95.66</div>
<div class="t" id="l1c" style="left:255.5px;top:32.5px;letter-spacing:-0.28px">H95.99</div>
<div class="t" id="l1d" style="left:300.5px;top:32.5px;letter-spacing:-0.2px">L94.73</div>
<div class="t" id="l1e" style="left:344px;top:32.5px;letter-spacing:-0.45px">C95.00</div>
<div class="t" id="l1f" style="left:388.5px;top:32.5px;letter-spacing:-0.26px">−0.66 (−0.69%)</div>
<div class="t" id="l2" style="left:16.3px;top:50.6px;letter-spacing:0.19px">EMA 20/50/100/200</div>
<div class="t" id="rsi" style="left:16.8px;top:309.5px;transform:scaleX(0.78);transform-origin:0 0">RSI</div>
<div class="t" id="stoch" style="left:16.6px;top:377px;transform:scaleX(0.93);transform-origin:0 0">Stoch</div>
<div style="position:absolute;left:1135px;top:27.7px;width:57px;height:25.3px;border:1px solid #eceef2;border-radius:4px;box-sizing:content-box;background:#fff"></div>
<div class="t" id="usdt" style="left:1144.9px;top:35px;transform:scaleX(0.83);transform-origin:0 0">USDT</div>
<div class="ax" style="top:89.5px">140.00</div>
<div class="ax" style="top:305.7px;left:1140.5px">80.00</div>
<div class="ax" style="top:344.3px;left:1140.5px">40.00</div>
<div class="ax" style="top:367.3px;left:1140.5px">100.00</div>
<div class="ax" style="top:418.5px;left:1140.5px">0.00</div>
<div class="lb" style="top:123px;height:17.6px;width:49.5px;background:#363636;color:#fff;line-height:17.6px;padding-top:2.0px">107.00</div>
<div class="lb" style="top:140.6px;height:17.4px;width:49.5px;background:#00ffff;color:#000;line-height:17.4px;padding-top:1.9px">102.38</div>
<div class="lb" style="top:158px;height:17.5px;width:49.5px;background:#0000ff;color:#fff;line-height:17.5px;padding-top:1.6px">101.88</div>
<div class="lb" style="top:175.5px;height:17px;width:43.7px;background:#ff7f00;color:#fff;line-height:17px;padding-top:1.4px">99.86</div>
<div class="lb" style="top:192px;height:17.3px;width:43.7px;background:#363636;color:#fff;line-height:17.3px;padding-top:1.1px">95.44</div>
<div class="lb" style="top:241.2px;height:17px;width:43.7px;background:#673ab7;color:#fff;line-height:17px;padding-top:0.5px">90.20</div>
<div class="lb" style="top:258.2px;height:17.6px;width:43.7px;background:#363636;color:#fff;line-height:17.6px;padding-top:0.5px">80.13</div>
<div class="lb" style="top:318.6px;height:17.9px;width:43.7px;background:#fdd835;color:#000;line-height:17.9px;padding-top:1.6px">50.28</div>
<div class="lb" style="top:336.5px;height:17.5px;width:43.7px;background:#7e57c2;color:#fff;line-height:17.5px;padding-top:1.4px">47.26</div>
<div class="lb" style="top:381.4px;height:17.6px;width:43.7px;background:#ff6d00;color:#fff;line-height:17.6px;padding-top:1.4px">37.06</div>
<div class="lb" style="top:399px;height:17.6px;width:43.7px;background:#2962ff;color:#fff;line-height:17.6px;padding-top:1.4px">34.14</div>
<div class="lb" style="top:209.3px;height:32.2px;width:60px;background:#000;color:#fff;line-height:14px;padding-top:3px;border-radius:0 3px 3px 0">95.00<br><span style="color:#d8d8d8">20:43:34</span></div>
<div class="mo" style="left:144.8px">Jul</div>
<div class="mo" style="left:334.9px">Aug</div>
<div class="mo" style="left:524.5px">Sep</div>
<div class="mo" style="left:708.4px">Oct</div>
<div class="mo" style="left:898.5px">Nov</div>
<div class="mo" style="left:1082.2px">Dec</div>
<svg style="left:10.1px;top:479.7px" width="29.9" height="14.6" viewBox="0 4 35.5 18" preserveAspectRatio="none"><path d="M14 22H7V11H0V4h14v18zM28 22h-8l7.5-18h8L28 22z" fill="#131313"/><circle cx="20" cy="8" r="4" fill="#131313"/></svg>
<div id="tv" style="position:absolute;left:47.6px;top:474.8px;font-size:20.7px;line-height:24px;font-weight:bold;color:#131313;white-space:nowrap;letter-spacing:0px">TradingView</div>
</body></html>
